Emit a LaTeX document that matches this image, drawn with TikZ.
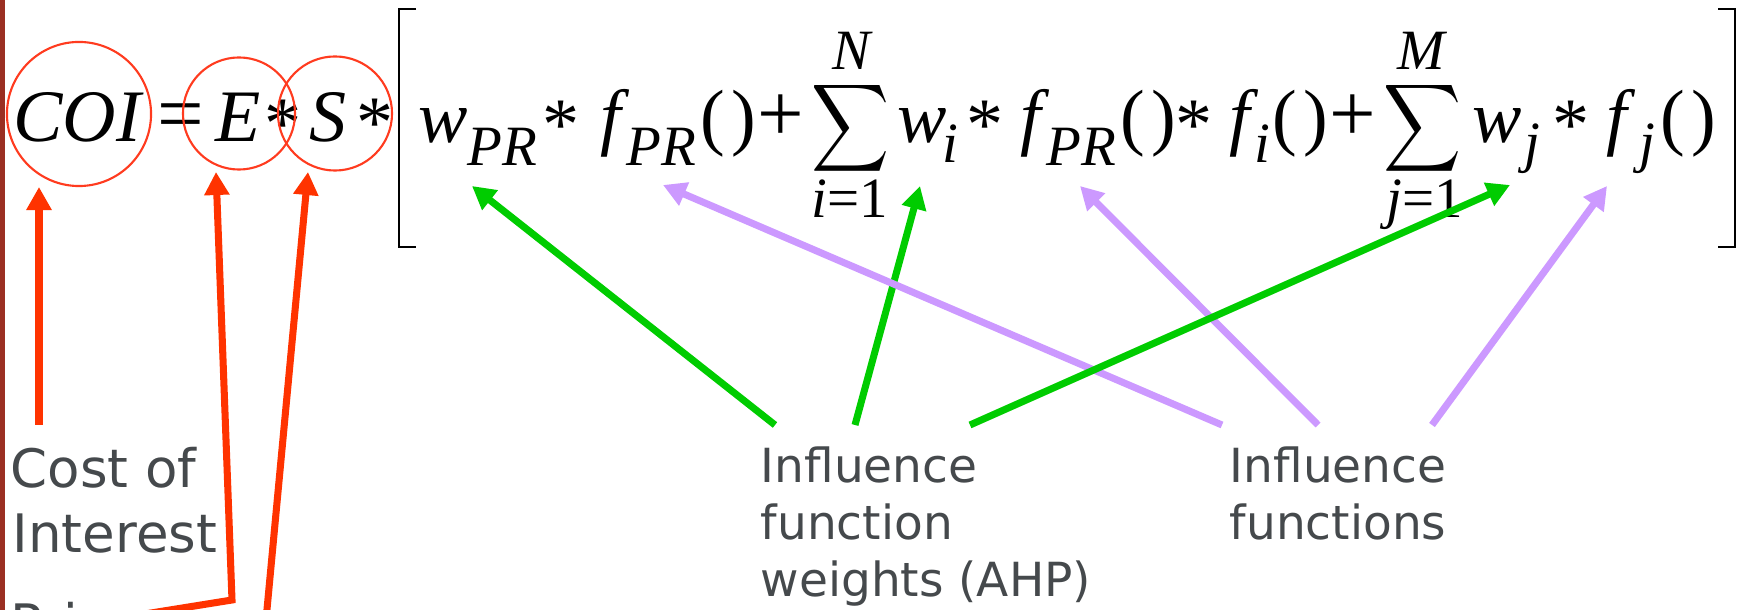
\documentclass[tikz,border=0pt]{standalone}
\usepackage{fontspec}
\setmainfont{Liberation Serif}
\newfontfamily\labfont{DejaVu Sans}
\usetikzlibrary{arrows.meta}
\definecolor{ringred}{HTML}{FF3B1F}
\definecolor{arrred}{HTML}{FF3300}
\definecolor{arrgreen}{HTML}{00CC00}
\definecolor{arrpurple}{HTML}{CC99FF}
\definecolor{labgray}{HTML}{45494C}
\definecolor{barbrown}{HTML}{9B2F22}
\newcommand\eqM{\fontsize{21.05pt}{24pt}\selectfont}
\newcommand\eqL{\fontsize{23.5pt}{26pt}\selectfont}
\newcommand\eqS{\fontsize{16.2pt}{19pt}\selectfont}
\newcommand\labA{\labfont\fontsize{15.08pt}{18pt}\selectfont}
\newcommand\labB{\labfont\fontsize{13.37pt}{16pt}\selectfont}
\newcommand\bigsigma{\resizebox*{0.78cm}{0.98cm}{$\displaystyle\sum$}}
\newcommand\emptyparens{(\kern1.8pt)}
\begin{document}
\begin{tikzpicture}[x=0.01cm,y=-0.01cm,
  eqit/.style={anchor=base,inner sep=0pt,font=\eqM\itshape},
  equp/.style={anchor=base,inner sep=0pt,font=\eqM},
  eqop/.style={anchor=base,inner sep=0pt,font=\eqL},
  eqsub/.style={anchor=base,inner sep=0pt,font=\eqS\itshape},
  eqlim/.style={anchor=base,inner sep=0pt,font=\eqS},
  astx/.style={anchor=north,inner sep=0pt,font=\eqM},
  bigsum/.style={anchor=north,inner sep=0pt},
  ring/.style={draw=ringred,line width=0.6pt,circle,inner sep=0pt},
  brk/.style={draw=black,line width=0.7pt},
  lblA/.style={anchor=base west,inner sep=0pt,text=labgray,font=\labA},
  lblB/.style={anchor=base west,inner sep=0pt,text=labgray,font=\labB},
  redarr/.style={draw=arrred,line width=2pt,-{Triangle[length=0.23cm,width=0.24cm]}},
  grnarr/.style={draw=arrgreen,line width=2pt,-{Triangle[length=0.23cm,width=0.24cm]}},
  purarr/.style={draw=arrpurple,line width=2pt,-{Triangle[length=0.23cm,width=0.24cm]}}]
\useasboundingbox (0,0) rectangle (1745,610);
\fill[barbrown] (0,0) rectangle (5,610);

% equation
\node[eqit] (coi) at (77,142) {COI};
\node[eqop] (eqsign) at (181,142) {=};
\node[eqit] (E) at (238,142) {E};
\node[astx] (s1) at (283,99) {*};
\node[eqit] (S) at (328,142) {S};
\node[astx] (s2) at (375,98) {*};
\node[eqit] (w1) at (443,143) {w};
\node[eqsub] (w1s) at (502,166) {PR};
\node[astx] (s3) at (561,100) {*};
\node[eqit] (f1) at (611,142) {f};
\node[eqsub] (f1s) at (661,166) {PR};
\node[equp] (p1) at (728,142) {\emptyparens};
\node[eqop] (plus1) at (781,142) {+};
\node[bigsum] (sum1) at (851,79) {\bigsigma};
\node[eqlim] (N) at (851,70) {\itshape N};
\node[eqlim] (lim1) at (850,218) {\itshape i\upshape =1};
\node[eqit] (w2) at (922,143) {w};
\node[eqsub] (w2s) at (950,163) {i};
\node[astx] (s4) at (985,100) {*};
\node[eqit] (f2) at (1031,142) {f};
\node[eqsub] (f2s) at (1081,166) {PR};
\node[equp] (p2) at (1148,142) {\emptyparens};
\node[astx] (s5) at (1194,100) {*};
\node[eqit] (f3) at (1240,142) {f};
\node[eqsub] (f3s) at (1262,163) {i};
\node[equp] (p3) at (1300,142) {\emptyparens};
\node[eqop] (plus2) at (1353,142) {+};
\node[bigsum] (sum2) at (1423,79) {\bigsigma};
\node[eqlim] (M) at (1421,70) {\itshape M};
\node[eqlim] (lim2) at (1425,218) {\itshape j\upshape =1};
\node[eqit] (w3) at (1497,143) {w};
\node[eqsub] (w3s) at (1532,162) {j};
\node[astx] (s6) at (1571,100) {*};
\node[eqit] (f4) at (1617,142) {f};
\node[eqsub] (f4s) at (1647,162) {j};
\node[equp] (p4) at (1688,142) {\emptyparens};

% brackets
\draw[brk] (416,9) -- (399,9) -- (399,247) -- (416,247);
\draw[brk] (1718,9) -- (1735,9) -- (1735,247) -- (1718,247);

% rings
\node[ring,minimum size=1.44cm] (ringCOI) at (79,114) {};
\node[ring,minimum size=1.12cm] (ringE) at (239,113.5) {};
\node[ring,minimum size=1.14cm] (ringS) at (335,113.5) {};

% labels
\node[lblA] (cost1) at (10,488) {Cost of};
\node[lblA] (cost2) at (12,553) {Interest};
\node[lblA] (pri) at (10,643) {Pri};
\node[lblB] (ifw1) at (760,483) {Influence};
\node[lblB] (ifw2) at (760,540) {function};
\node[lblB] (ifw3) at (760,597) {weights (AHP)};
\node[lblB] (ifn1) at (1229,483) {Influence};
\node[lblB] (ifn2) at (1229,540) {functions};

% connector end points
\coordinate (tCOI) at (39,425); \coordinate (hCOI) at (39,187);
\coordinate (tE) at (120,618); \coordinate (kE) at (232,600); \coordinate (hE) at (216,172);
\coordinate (tS) at (266,620); \coordinate (hS) at (308,172);
\coordinate (g1t) at (775,425); \coordinate (g1h) at (472,186);
\coordinate (g2t) at (855,425); \coordinate (g2h) at (920,186);
\coordinate (g3t) at (970,425); \coordinate (g3h) at (1510,185);
\coordinate (q1t) at (1222,425); \coordinate (q1h) at (663,185);
\coordinate (q2t) at (1318,425); \coordinate (q2h) at (1080,186);
\coordinate (q3t) at (1432,425); \coordinate (q3h) at (1607,186);

% arrows
\draw[redarr] (tCOI) -- (hCOI);
\draw[redarr] (tE) -- (kE) -- (hE);
\draw[redarr] (tS) -- (hS);
\draw[grnarr] (g1t) -- (g1h);
\draw[grnarr] (g2t) -- (g2h);
\draw[purarr] (q1t) -- (q1h);
\draw[purarr] (q2t) -- (q2h);
\draw[purarr] (q3t) -- (q3h);
\draw[grnarr] (g3t) -- (g3h);
\end{tikzpicture}
\end{document}
